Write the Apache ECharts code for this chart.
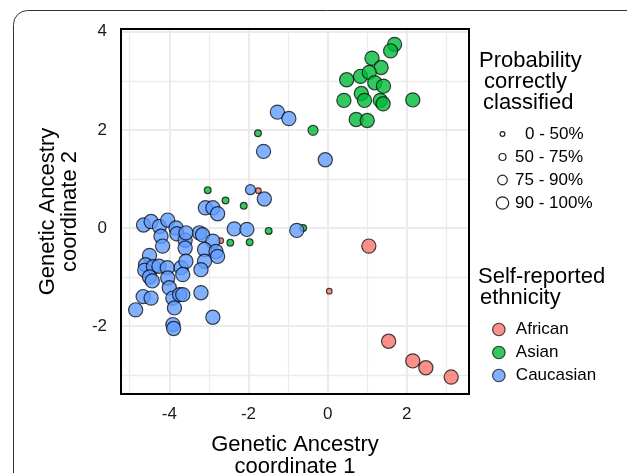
<!DOCTYPE html>
<html>
<head>
<meta charset="utf-8">
<script src="https://cdn.jsdelivr.net/npm/echarts@6/dist/echarts.min.js"></script>
<style>html,body{margin:0;padding:0;background:#fff}#c{width:627px;height:473px}</style>
</head>
<body>
<div id="c"></div>
<script>
// ---- data ----
const ethnicities = ['African', 'Asian', 'Caucasian'];
const probLabels = ['0 - 50%', '50 - 75%', '75 - 90%', '90 - 100%'];
const xTicks = [-4, -2, 0, 2];
const yTicks = [-2, 0, 2, 4];
const xMinor = [-5, -3, -1, 1, 3];
const yMinor = [-3, -1, 1, 3];

// prob class index: 0 = 0-50%, 1 = 50-75%, 2 = 75-90%, 3 = 90-100%
const africanX = [1.04, 0.04, -1.75, -2.70, 1.54, 2.15, 2.48, 3.12];
const africanY = [-0.37, -1.29, 0.76, -0.26, -2.31, -2.71, -2.85, -3.04];
const africanP = [3, 0, 0, 0, 3, 3, 3, 3];

const asianX = [1.69, 1.59, 1.12, 1.35, 0.48, 0.83, 1.05, 1.19, 1.41, 0.85, 0.93, 0.41, 1.33, 1.40, 2.15, 0.72, 1.00,
  -0.37, -1.76, -3.03, -2.58, -2.12, -2.46, -1.97, -1.49, -0.62];
const asianY = [3.74, 3.61, 3.46, 3.27, 3.02, 3.09, 3.17, 2.96, 2.89, 2.74, 2.60, 2.60, 2.60, 2.53, 2.61, 2.21, 2.19,
  1.99, 1.93, 0.77, 0.56, 0.45, -0.30, -0.29, -0.06, 0.00];
const asianP = [3, 3, 3, 3, 3, 3, 3, 3, 3, 3, 3, 3, 3, 3, 3, 3, 3,
  2, 1, 1, 1, 1, 1, 1, 1, 1];

const caucX = [-4.65, -4.46, -4.25, -4.04, -3.83, -3.81, -4.21, -4.17, -3.60, -3.60,
  -4.50, -4.60, -4.62, -4.40, -4.26, -4.05, -4.50, -4.43, -4.04, -4.00,
  -3.91, -4.66, -4.46, -4.85, -3.87, -3.91, -3.89, -3.70, -3.58, -3.66,
  -3.74, -3.24, -3.16, -2.90, -3.11, -2.82, -2.78, -3.11, -3.20, -3.20,
  -3.66, -2.90, -3.09, -2.90, -2.78, -2.36, -2.04, -1.60, -1.95, -0.78,
  -1.62, -0.06, -1.27, -0.98, -3.58];
const caucY = [0.06, 0.13, 0.03, 0.16, 0.00, -0.12, -0.17, -0.37, -0.25, -0.41,
  -0.56, -0.75, -0.86, -0.79, -0.78, -0.81, -1.00, -1.08, -1.02, -1.22,
  -1.43, -1.40, -1.43, -1.67, -1.63, -1.97, -2.05, -0.81, -0.68, -0.95,
  -1.36, -0.10, -0.14, -0.27, -0.44, -0.48, -0.58, -0.68, -0.85, -1.32,
  -1.36, -1.82, 0.41, 0.41, 0.29, -0.02, -0.03, 0.59, 0.78, -0.05,
  1.56, 1.39, 2.36, 2.23, -0.10];
const caucP = [3, 3, 3, 3, 3, 3, 3, 3, 3, 3,
  3, 3, 3, 3, 3, 3, 3, 3, 3, 3,
  3, 3, 3, 3, 3, 3, 3, 3, 3, 3,
  3, 3, 3, 3, 3, 3, 3, 3, 3, 3,
  3, 3, 3, 3, 3, 3, 3, 3, 2, 3,
  3, 3, 3, 3, 3];

// ---- build ----
const symbolSizes = [5.6, 6.8, 10.0, 14.2];
const fills = ['rgba(248,118,109,0.8)', 'rgba(0,186,56,0.8)', 'rgba(97,156,255,0.8)'];
const zip = (xs, ys, ps) => xs.map((x, i) => [x, ys[i], ps[i]]);
const groups = [zip(africanX, africanY, africanP), zip(asianX, asianY, asianP), zip(caucX, caucY, caucP)];
const FONT = "'Liberation Sans', Arial, sans-serif";

const gridLines = [];
xTicks.forEach(v => gridLines.push({ xAxis: v, lineStyle: { width: 2 } }));
xMinor.forEach(v => gridLines.push({ xAxis: v, lineStyle: { width: 1.3 } }));
yTicks.forEach(v => gridLines.push({ yAxis: v, lineStyle: { width: 2 } }));
yMinor.forEach(v => gridLines.push({ yAxis: v, lineStyle: { width: 1.3 } }));

const series = [{
  name: 'grid', type: 'scatter', data: [], silent: true,
  markLine: {
    silent: true, symbol: ['none', 'none'], z: 1, animation: false,
    label: { show: false },
    lineStyle: { color: '#ebebeb', type: 'solid' },
    emphasis: { disabled: true },
    data: gridLines
  }
}];
ethnicities.forEach((e, i) => {
  series.push({
    name: e, type: 'scatter', z: 2,
    data: groups[i],
    symbol: 'circle',
    symbolSize: d => symbolSizes[d[2]],
    itemStyle: { color: fills[i], borderColor: 'rgba(0,0,0,0.72)', borderWidth: 1.2, opacity: 1 },
    emphasis: { disabled: true }
  });
});

const graphic = [
  { type: 'rect', shape: { x: 13.5, y: 10.5, width: 900, height: 900, r: 14 }, style: { fill: 'none', stroke: '#333', lineWidth: 1 }, silent: true }
];
const txt = (t, x, y, size) => ({ type: 'text', x: x, y: y, style: { text: t, fill: '#000', fontSize: size, fontFamily: FONT, verticalAlign: 'middle', align: 'left' } });
graphic.push(txt('Probability', 479, 61, 22));
graphic.push(txt('correctly', 484, 82, 22));
graphic.push(txt('classified', 483, 103, 22));
graphic.push(txt('Self-reported', 478, 277, 22));
graphic.push(txt('ethnicity', 480, 298, 22));
const legR = [2.4, 3.5, 4.8, 6.2];
const legY = [134, 157, 180, 203];
const legTX = [525, 515, 515, 515];
probLabels.forEach((l, i) => {
  graphic.push({ type: 'circle', shape: { cx: 502.5, cy: legY[i], r: legR[i] }, style: { fill: 'none', stroke: '#222', lineWidth: 1.2 } });
  graphic.push(txt(l, legTX[i], legY[i], 17));
});

const chart = echarts.init(document.getElementById('c'), null, { renderer: 'canvas' });
chart.setOption({
  animation: false,
  backgroundColor: '#fff',
  grid: { left: 121, right: 158, top: 29, bottom: 79, outerBoundsMode: 'none', containLabel: false, show: true, z: 3, backgroundColor: 'transparent', borderColor: '#000', borderWidth: 2 },
  xAxis: {
    type: 'value', min: -5.22, max: 3.57,
    name: 'Genetic Ancestry\ncoordinate 1', nameLocation: 'middle', nameGap: 40,
    nameTextStyle: { fontSize: 22, fontFamily: FONT, color: '#000', lineHeight: 22 },
    axisLine: { show: false },
    splitLine: { show: false },
    axisTick: { show: true, customValues: xTicks, length: 4, lineStyle: { color: '#000', width: 1.5 } },
    axisLabel: { customValues: xTicks, fontSize: 17, fontFamily: FONT, color: '#1a1a1a', margin: 12 }
  },
  yAxis: {
    type: 'value', min: -3.385, max: 4.055,
    name: 'Genetic Ancestry\ncoordinate 2', nameLocation: 'middle', nameGap: 35, nameRotate: 90,
    nameTextStyle: { fontSize: 22, fontFamily: FONT, color: '#000', lineHeight: 22 },
    axisLine: { show: false },
    splitLine: { show: false },
    axisTick: { show: true, customValues: yTicks, length: 4, lineStyle: { color: '#000', width: 1.5 } },
    axisLabel: { customValues: yTicks, fontSize: 17, fontFamily: FONT, color: '#1a1a1a', margin: 14 }
  },
  legend: {
    data: ethnicities, orient: 'vertical', left: 492, top: 321, padding: 0,
    itemWidth: 24, itemHeight: 12.5, itemGap: 6, icon: 'circle',
    itemStyle: { borderColor: 'rgba(0,0,0,0.72)', borderWidth: 1.2 },
    textStyle: { fontSize: 17, fontFamily: FONT, color: '#000' },
    selectedMode: false
  },
  graphic: graphic,
  series: series
});
</script>
</body>
</html>
